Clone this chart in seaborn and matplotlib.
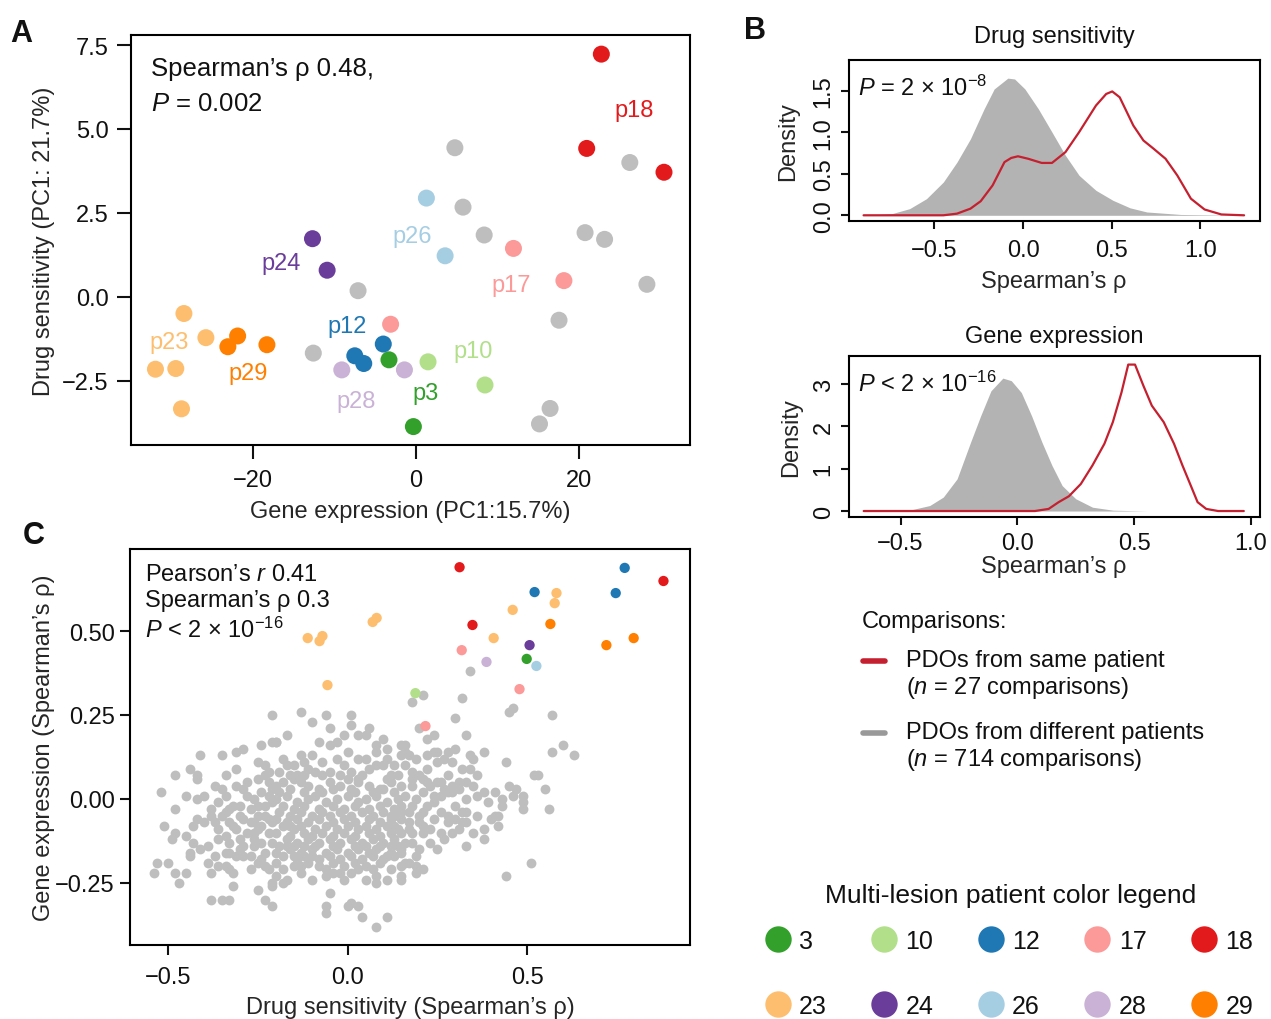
import numpy as np
import pandas as pd
import matplotlib
matplotlib.use("Agg")
import matplotlib.pyplot as plt
from matplotlib.lines import Line2D
from matplotlib.legend_handler import HandlerLine2D
import seaborn as sns

# ---- data ----
patients = ["3", "10", "12", "17", "18", "23", "24", "26", "28", "29"]

# panel A: PDO principal components (gene expr PC1, drug PC1)
pdo_patient = ["18", "18", "18", "26", "26", "17", "17", "17", "24", "24",
               "12", "12", "12", "3", "3", "28", "28", "10", "10",
               "23", "23", "23", "23", "23", "29", "29", "29"] + ["other"] * 12
pdo_gene_pc = [22.8, 21.0, 30.5, 1.3, 3.6, 12.0, 18.2, -3.1, -12.7, -10.9,
               -4.0, -7.5, -6.4, -3.3, -0.3, -9.1, -1.4, 1.5, 8.5,
               -28.5, -25.8, -32.0, -29.5, -28.8, -21.9, -23.1, -18.3,
               4.8, 26.3, 5.8, 8.4, 20.8, 23.2, 28.4, -7.1, 17.6, -12.6, 16.5, 15.2]
pdo_drug_pc = [7.23, 4.42, 3.71, 2.94, 1.22, 1.44, 0.48, -0.82, 1.73, 0.79,
               -1.41, -1.76, -1.99, -1.88, -3.87, -2.18, -2.18, -1.94, -2.63,
               -0.50, -1.22, -2.16, -2.14, -3.34, -1.17, -1.49, -1.43,
               4.44, 4.00, 2.67, 1.84, 1.91, 1.71, 0.37, 0.18, -0.70, -1.68, -3.33, -3.79]
label_text = ["p18", "p26", "p17", "p24", "p12", "p3", "p28", "p10", "p23", "p29"]
label_patient = ["18", "26", "17", "24", "12", "3", "28", "10", "23", "29"]
label_x = [26.8, -0.5, 11.7, -16.6, -8.4, 1.2, -7.3, 7.1, -30.3, -20.6]
label_y = [5.57, 1.81, 0.35, 1.00, -0.88, -2.86, -3.11, -1.61, -1.36, -2.26]

# panel B: density curves (x, density)
drug_diff_x = [-0.90, -0.74, -0.64, -0.545, -0.45, -0.373, -0.297, -0.22, -0.163, -0.086,
               -0.048, 0.01, 0.086, 0.163, 0.239, 0.316, 0.411, 0.507, 0.603, 0.698, 0.89, 1.247]
drug_diff_y = [0.0, 0.02, 0.08, 0.20, 0.40, 0.64, 0.92, 1.28, 1.52, 1.65,
               1.64, 1.52, 1.28, 1.00, 0.72, 0.48, 0.30, 0.18, 0.09, 0.04, 0.01, 0.0]
drug_same_x = [-0.90, -0.45, -0.373, -0.297, -0.239, -0.172, -0.105, -0.067, -0.029, 0.029,
               0.105, 0.163, 0.239, 0.316, 0.411, 0.469, 0.503, 0.545, 0.622, 0.679,
               0.737, 0.804, 0.87, 0.947, 1.024, 1.119, 1.247]
drug_same_y = [0.0, 0.0, 0.02, 0.08, 0.17, 0.36, 0.64, 0.69, 0.71, 0.68,
               0.63, 0.63, 0.76, 1.00, 1.32, 1.46, 1.49, 1.42, 1.08, 0.90,
               0.80, 0.68, 0.48, 0.20, 0.07, 0.01, 0.0]
gene_diff_x = [-0.658, -0.462, -0.375, -0.317, -0.258, -0.20, -0.157, -0.113, -0.062, -0.026,
               0.017, 0.061, 0.105, 0.148, 0.192, 0.25, 0.322, 0.41, 0.555, 0.97]
gene_diff_y = [0.0, 0.02, 0.13, 0.33, 0.76, 1.63, 2.25, 2.84, 3.14, 3.08,
               2.80, 2.25, 1.63, 1.08, 0.60, 0.29, 0.09, 0.02, 0.0, 0.0]
gene_same_x = [-0.658, 0.075, 0.134, 0.177, 0.221, 0.272, 0.322, 0.373, 0.409, 0.446,
               0.475, 0.504, 0.54, 0.576, 0.627, 0.671, 0.707, 0.743, 0.772, 0.809, 0.86, 0.97]
gene_same_y = [0.0, 0.0, 0.05, 0.21, 0.35, 0.64, 1.08, 1.59, 2.10, 2.80,
               3.46, 3.46, 2.96, 2.49, 2.10, 1.59, 1.08, 0.60, 0.21, 0.05, 0.0, 0.0]

# panel C: pairwise correlations, same-patient pairs (drug rho, gene rho)
pair_patient = ["23"] * 10 + ["29"] * 3 + ["18"] * 3 + ["12"] * 3 + ["24", "3", "26", "28"] + ["17"] * 3 + ["10"]
pair_drug = [-0.111, -0.078, -0.070, 0.070, 0.081, -0.056, 0.407, 0.460, 0.577, 0.582,
             0.565, 0.721, 0.797, 0.312, 0.348, 0.880, 0.772, 0.521, 0.747,
             0.507, 0.499, 0.526, 0.387, 0.318, 0.479, 0.217, 0.189]
pair_gene = [0.479, 0.470, 0.485, 0.527, 0.539, 0.339, 0.479, 0.563, 0.583, 0.613,
             0.521, 0.458, 0.479, 0.690, 0.518, 0.649, 0.688, 0.616, 0.613,
             0.458, 0.417, 0.396, 0.408, 0.443, 0.327, 0.217, 0.315]

# panel C: pairs from different patients (drug rho, gene rho)
other_pairs = [
    (-0.21, 0.25), (-0.41, 0.13), (-0.35, 0.13), (-0.31, 0.14), (-0.29, 0.15), (-0.24, 0.16), (-0.21, 0.17), (-0.20, 0.17),
    (-0.44, 0.09), (-0.48, 0.07), (-0.42, 0.06), (-0.42, 0.07), (-0.31, 0.09), (-0.34, 0.07), (-0.25, 0.11), (-0.23, 0.10), (-0.25, 0.06),
    (-0.52, 0.02), (-0.45, 0.01), (-0.42, 0.00), (-0.40, 0.01), (-0.37, 0.04), (-0.35, 0.03), (-0.34, 0.01), (-0.31, 0.04), (-0.29, 0.03),
    (-0.28, 0.05), (-0.22, 0.05), (-0.26, 0.00),
    (-0.48, -0.03), (-0.38, -0.03), (-0.38, -0.05), (-0.32, -0.02), (-0.30, -0.02), (-0.23, -0.02), (-0.21, -0.01),
    (-0.51, -0.08), (-0.48, -0.10), (-0.49, -0.12), (-0.45, -0.11), (-0.43, -0.08), (-0.42, -0.06), (-0.40, -0.07), (-0.43, -0.13),
    (-0.35, -0.05), (-0.33, -0.07), (-0.32, -0.08), (-0.29, -0.06), (-0.27, -0.07), (-0.30, -0.12), (-0.28, -0.10), (-0.26, -0.10),
    (-0.24, -0.08), (-0.22, -0.10),
    (-0.39, -0.14), (-0.41, -0.15), (-0.44, -0.16), (-0.44, -0.17), (-0.34, -0.16), (-0.33, -0.16), (-0.31, -0.17), (-0.29, -0.17),
    (-0.27, -0.17), (-0.26, -0.14), (-0.23, -0.16),
    (-0.53, -0.19), (-0.50, -0.19), (-0.54, -0.22), (-0.48, -0.22), (-0.45, -0.22), (-0.39, -0.19), (-0.47, -0.25), (-0.38, -0.22),
    (-0.36, -0.20), (-0.34, -0.20), (-0.33, -0.21), (-0.32, -0.22), (-0.25, -0.19), (-0.23, -0.20), (-0.22, -0.21),
    (-0.32, -0.26), (-0.25, -0.27), (-0.21, -0.25), (-0.38, -0.30), (-0.35, -0.30), (-0.33, -0.30), (-0.23, -0.30), (-0.21, -0.32),
    (-0.13, 0.26), (-0.10, 0.23), (-0.06, 0.25), (-0.05, 0.21), (0.01, 0.25), (0.01, 0.22), (-0.17, 0.19), (-0.20, 0.17),
    (0.03, 0.19), (0.06, 0.21), (0.05, 0.19), (-0.08, 0.17), (-0.05, 0.16), (-0.03, 0.17), (-0.01, 0.19), (0.08, 0.16),
    (0.10, 0.18), (0.11, 0.15), (0.15, 0.16),
    (-0.18, 0.12), (-0.17, 0.10), (-0.13, 0.13), (-0.10, 0.13), (-0.07, 0.11), (-0.03, 0.12), (0.00, 0.14), (0.03, 0.12),
    (0.08, 0.14), (0.15, 0.13), (0.16, 0.14),
    (-0.11, 0.09), (-0.09, 0.08), (-0.14, 0.07), (-0.05, 0.08), (0.03, 0.06), (0.04, 0.07), (0.06, 0.09), (0.08, 0.10),
    (0.10, 0.10), (0.13, 0.10), (-0.20, 0.04), (-0.18, 0.05), (-0.15, 0.06),
    (-0.13, 0.05), (-0.11, 0.04), (-0.08, 0.03), (-0.05, 0.05), (-0.02, 0.04), (0.01, 0.03), (0.03, 0.05), (0.06, 0.04),
    (0.09, 0.03), (0.12, 0.05), (0.15, 0.04),
    (-0.20, 0.00), (-0.17, 0.01), (-0.14, -0.01), (-0.11, 0.00), (-0.09, 0.01), (-0.06, -0.01), (-0.03, 0.00), (0.00, 0.01),
    (0.03, -0.01), (0.05, 0.00), (0.08, 0.01), (0.11, -0.01), (0.14, 0.00), (0.16, 0.01),
    (-0.19, -0.04), (-0.16, -0.05), (-0.13, -0.04), (-0.10, -0.05), (-0.07, -0.04), (-0.05, -0.05), (-0.02, -0.04), (0.01, -0.05),
    (0.04, -0.04), (0.07, -0.05), (0.10, -0.04), (0.12, -0.05), (0.15, -0.04),
    (-0.18, -0.08), (-0.15, -0.09), (-0.13, -0.08), (-0.09, -0.09), (-0.06, -0.08), (-0.03, -0.09), (0.00, -0.08), (0.03, -0.09),
    (0.05, -0.08), (0.08, -0.09), (0.11, -0.08), (0.14, -0.09),
    (-0.17, -0.12), (-0.14, -0.13), (-0.11, -0.12), (-0.08, -0.13), (-0.05, -0.12), (-0.02, -0.13), (0.01, -0.12), (0.04, -0.13),
    (0.07, -0.12), (0.10, -0.13), (0.13, -0.12), (0.16, -0.13),
    (-0.16, -0.15), (-0.13, -0.16), (-0.10, -0.15), (-0.06, -0.16), (-0.03, -0.15), (0.00, -0.16), (0.03, -0.15), (0.06, -0.16),
    (0.08, -0.15), (0.12, -0.16), (0.15, -0.15),
    (-0.20, -0.19), (-0.15, -0.20), (-0.11, -0.19), (-0.08, -0.20), (-0.04, -0.19), (-0.01, -0.20), (0.02, -0.19), (0.05, -0.20),
    (0.09, -0.19), (0.15, -0.20),
    (-0.20, -0.23), (-0.17, -0.24), (-0.13, -0.22), (-0.10, -0.24), (-0.06, -0.23), (-0.04, -0.22), (-0.01, -0.24), (0.01, -0.22),
    (0.05, -0.24), (0.08, -0.23), (0.11, -0.24), (0.15, -0.23),
    (-0.21, -0.26), (-0.18, -0.25), (-0.05, -0.28), (0.08, -0.25), (-0.06, -0.32), (-0.06, -0.34), (0.01, -0.31), (0.00, -0.32),
    (0.03, -0.32), (0.04, -0.35), (0.11, -0.35), (0.08, -0.38),
    (0.21, 0.31), (0.18, 0.29), (0.32, 0.30), (0.45, 0.26), (0.46, 0.27), (0.57, 0.25), (0.30, 0.24), (0.20, 0.21),
    (0.22, 0.18), (0.24, 0.19), (0.33, 0.19), (0.16, 0.16), (0.38, 0.14), (0.57, 0.14), (0.60, 0.16), (0.63, 0.13), (0.44, 0.11),
    (0.22, 0.13), (0.24, 0.14), (0.25, 0.14), (0.25, 0.11), (0.28, 0.14), (0.30, 0.15), (0.29, 0.11), (0.34, 0.13), (0.35, 0.12),
    (0.16, 0.10), (0.18, 0.08), (0.20, 0.07), (0.22, 0.09), (0.28, 0.07), (0.32, 0.09), (0.34, 0.09), (0.36, 0.07), (0.52, 0.07),
    (0.53, 0.07), (0.18, 0.06), (0.21, 0.06), (0.23, 0.04), (0.25, 0.05), (0.26, 0.05), (0.29, 0.04), (0.31, 0.05), (0.33, 0.05),
    (0.31, 0.03), (0.18, 0.04), (0.45, 0.04), (0.47, 0.03), (0.55, 0.03),
    (0.36, 0.01), (0.38, 0.02), (0.41, 0.02), (0.21, 0.02), (0.24, 0.01), (0.28, 0.02), (0.29, 0.02), (0.43, 0.00), (0.46, 0.01),
    (0.49, 0.01), (0.49, -0.01),
    (0.15, -0.02), (0.18, -0.02), (0.24, -0.01), (0.30, -0.02), (0.43, -0.02), (0.49, -0.03), (0.56, -0.03),
    (0.20, -0.05), (0.21, -0.04), (0.26, -0.04), (0.28, -0.05), (0.32, -0.04), (0.33, -0.04), (0.41, -0.05), (0.42, -0.05),
    (0.15, -0.06), (0.17, -0.07), (0.20, -0.07), (0.21, -0.08), (0.28, -0.07), (0.32, -0.07), (0.33, -0.07), (0.40, -0.06), (0.42, -0.08),
    (0.15, -0.10), (0.18, -0.10), (0.21, -0.10), (0.29, -0.10), (0.35, -0.10), (0.38, -0.09), (0.38, -0.12), (0.23, -0.13),
    (0.25, -0.15), (0.33, -0.14),
    (0.15, -0.16), (0.16, -0.19), (0.17, -0.19), (0.19, -0.20), (0.21, -0.21), (0.19, -0.22), (0.51, -0.19), (0.44, -0.23),
    (0.34, 0.38), (0.11, -0.17), (0.15, -0.24), (0.17, 0.13),
    (-0.19, 0.02), (-0.16, 0.03), (-0.12, 0.02), (-0.07, 0.02), (-0.04, 0.03), (0.02, 0.02), (0.07, 0.02), (0.10, 0.03), (0.13, 0.02),
    (-0.18, -0.02), (-0.15, -0.03), (-0.12, -0.02), (-0.08, -0.03), (-0.04, -0.02), (-0.01, -0.03), (0.02, -0.02), (0.06, -0.03),
    (0.09, -0.02), (0.13, -0.03),
    (-0.20, -0.06), (-0.17, -0.07), (-0.14, -0.06), (-0.11, -0.07), (-0.08, -0.06), (-0.04, -0.07), (-0.01, -0.06), (0.02, -0.07),
    (0.06, -0.06), (0.09, -0.07), (0.12, -0.06),
    (-0.20, -0.10), (-0.16, -0.11), (-0.12, -0.10), (-0.10, -0.11), (-0.07, -0.10), (-0.04, -0.11), (-0.01, -0.10), (0.02, -0.11),
    (0.06, -0.10), (0.09, -0.11), (0.12, -0.10),
    (-0.19, -0.14), (-0.15, -0.14), (-0.12, -0.14), (-0.09, -0.14), (-0.04, -0.14), (0.02, -0.14), (0.05, -0.14), (0.09, -0.14), (0.14, -0.14),
    (-0.18, -0.17), (-0.14, -0.18), (-0.12, -0.17), (-0.08, -0.18), (-0.05, -0.17), (-0.02, -0.18), (0.01, -0.17), (0.04, -0.18),
    (0.07, -0.17), (0.10, -0.18),
    (-0.19, 0.08), (-0.16, 0.07), (-0.02, 0.07), (0.01, 0.08), (0.12, 0.07),
    (-0.27, -0.03), (-0.25, -0.05), (-0.24, 0.02), (-0.26, -0.12), (-0.24, -0.13), (-0.23, -0.05), (-0.22, 0.08),
    (-0.15, 0.10), (-0.12, 0.11), (-0.01, 0.10), (0.05, 0.12), (0.11, 0.12), (0.19, 0.12), (0.27, 0.12),
    (-0.23, 0.07), (-0.21, 0.03), (-0.12, 0.07), (-0.07, 0.07), (0.00, 0.06), (0.11, 0.06), (0.14, 0.07), (0.22, 0.05),
    (0.27, 0.03), (0.35, 0.04),
    (-0.36, -0.01), (-0.33, -0.03), (-0.28, 0.01), (-0.25, -0.02), (-0.22, 0.01), (0.19, 0.00), (0.22, -0.02), (0.26, 0.01),
    (0.33, 0.00), (0.39, -0.01),
    (-0.37, -0.07), (-0.34, -0.04), (-0.30, -0.05), (-0.26, -0.07), (-0.22, -0.06), (0.13, -0.05), (0.17, -0.04), (0.24, -0.06),
    (0.30, -0.06), (0.36, -0.05),
    (-0.36, -0.09), (-0.34, -0.11), (-0.31, -0.09), (-0.25, -0.09), (-0.21, -0.07), (-0.16, -0.08), (0.13, -0.08), (0.17, -0.09),
    (0.23, -0.09), (0.26, -0.10), (0.31, -0.09),
    (-0.36, -0.12), (-0.33, -0.13), (-0.29, -0.14), (-0.21, -0.13), (-0.17, -0.14), (0.12, -0.14), (0.18, -0.13), (0.20, -0.15),
    (0.27, -0.12),
    (-0.37, -0.17), (-0.30, -0.15), (-0.24, -0.18), (-0.20, -0.16), (-0.15, -0.17), (0.13, -0.17), (0.19, -0.17), (-0.10, -0.17),
    (-0.27, -0.21), (-0.18, -0.21), (-0.13, -0.20), (-0.06, -0.21), (-0.02, -0.22), (0.03, -0.21), (0.07, -0.21), (0.12, -0.21),
]

# ---- style ----
sns.set_style("white")
plt.rcParams['font.family'] = ['Liberation Sans', 'DejaVu Sans']
plt.rcParams['mathtext.fontset'] = 'custom'
plt.rcParams['mathtext.rm'] = 'Liberation Sans'
plt.rcParams['mathtext.it'] = 'Liberation Sans:italic'
plt.rcParams['axes.edgecolor'] = 'black'
plt.rcParams['axes.linewidth'] = 1.5
plt.rcParams['text.color'] = '#111111'

FS = 17
paired = sns.color_palette("Paired")
pal = {"3": paired[3], "10": paired[2], "12": paired[1], "17": paired[4], "18": paired[5],
       "23": paired[6], "24": paired[9], "26": paired[0], "28": paired[8], "29": paired[7],
       "other": "#BEBEBE"}
gray_pts = "#BEBEBE"
gray_fill = "#B3B3B3"
red_line = "#C4202F"


def style_axis(ax, length=7, xpad=4, ypad=4):
    ax.tick_params(bottom=True, left=True, direction='out', length=length, width=1.5,
                   labelsize=FS, colors='#111111')
    ax.tick_params(axis='x', pad=xpad)
    ax.tick_params(axis='y', pad=ypad)
    for s in ax.spines.values():
        s.set_color('black')
        s.set_linewidth(1.5)


class FirstLineHandler(HandlerLine2D):
    # put the legend line next to the first line of a two-line label
    def create_artists(self, legend, orig_handle, xdescent, ydescent, width, height, fontsize, trans):
        artists = super().create_artists(legend, orig_handle, xdescent, ydescent,
                                         width, height, fontsize, trans)
        for a in artists:
            a.set_ydata(np.asarray(a.get_ydata()) + 0.6 * fontsize)
        return artists


fig = plt.figure(figsize=(12.71, 10.20), dpi=100)

# ---- panel A ----
axA = fig.add_axes([0.1031, 0.5627, 0.4398, 0.4020])
dfA = pd.DataFrame({"gene": pdo_gene_pc, "drug": pdo_drug_pc, "patient": pdo_patient})
dfA["order"] = (dfA["patient"] != "other").astype(int)
dfA = dfA.sort_values("order")
sns.scatterplot(data=dfA, x="gene", y="drug", hue="patient", palette=pal, s=150,
                linewidth=0, legend=False, ax=axA)
for t, p, x, y in zip(label_text, label_patient, label_x, label_y):
    axA.text(x, y, t, color=pal[p], fontsize=FS, ha='center', va='center')
axA.set_xlim(-35.0, 33.7)
axA.set_ylim(-4.42, 7.8)
axA.set_xticks([-20, 0, 20])
axA.set_yticks([-2.5, 0, 2.5, 5.0, 7.5])
axA.set_yticklabels(["\u22122.5", "0.0", "2.5", "5.0", "7.5"])
axA.set_xlabel("Gene expression (PC1:15.7%)", fontsize=FS, labelpad=7)
axA.set_ylabel("Drug sensitivity (PC1: 21.7%)", fontsize=FS, labelpad=5)
axA.text(0.036, 0.948, "Spearman\u2019s \u03c1 0.48,\n$\\it{P}$ = 0.002", transform=axA.transAxes,
         fontsize=18.5, va='top', ha='left', linespacing=1.55)
style_axis(axA, length=10, xpad=7, ypad=6)

# ---- panel B ----
def density_panel(rect, title, dx, dy, sx, sy, xlim, ylim, yticks, ylabels, ptext,
                  title_pad, xpad, xlabelpad, ylabelpad):
    ax = fig.add_axes(rect)
    ax.fill_between(dx, dy, color=gray_fill, linewidth=0)
    sns.lineplot(x=sx, y=sy, ax=ax, color=red_line, linewidth=1.6, sort=False)
    ax.set_xlim(*xlim)
    ax.set_ylim(*ylim)
    ax.set_xticks([-0.5, 0, 0.5, 1.0])
    ax.set_xticklabels(["\u22120.5", "0.0", "0.5", "1.0"])
    ax.set_yticks(yticks)
    ax.set_yticklabels(ylabels, rotation=90, va='center')
    ax.set_title(title, fontsize=FS, pad=title_pad)
    ax.set_xlabel("Spearman\u2019s \u03c1", fontsize=FS, labelpad=xlabelpad)
    ax.set_ylabel("Density", fontsize=FS, labelpad=ylabelpad)
    ax.text(0.023, 0.83, ptext, transform=ax.transAxes, fontsize=FS, va='center', ha='left')
    style_axis(ax, length=6, xpad=xpad, ypad=4)
    return ax

density_panel([0.6676, 0.7824, 0.3235, 0.1581], "Drug sensitivity",
              drug_diff_x, drug_diff_y, drug_same_x, drug_same_y,
              (-0.985, 1.335), (-0.068, 1.872), [0, 0.5, 1.0, 1.5], ["0.0", "0.5", "1.0", "1.5"],
              "$\\it{P}$ = 2 \u00d7 10$^{\\mathrm{-8}}$",
              title_pad=13, xpad=7, xlabelpad=6.5, ylabelpad=10)
density_panel([0.6676, 0.4922, 0.3235, 0.1581], "Gene expression",
              gene_diff_x, gene_diff_y, gene_same_x, gene_same_y,
              (-0.723, 1.038), (-0.14, 3.67), [0, 1, 2, 3], ["0", "1", "2", "3"],
              "$\\it{P}$ < 2 \u00d7 10$^{\\mathrm{-16}}$",
              title_pad=10, xpad=4.5, xlabelpad=1, ylabelpad=7.5)

# ---- panel C ----
axC = fig.add_axes([0.1023, 0.0725, 0.4406, 0.3882])
other_drug = [p[0] for p in other_pairs]
other_gene = [p[1] for p in other_pairs]
sns.scatterplot(x=other_drug, y=other_gene, color=gray_pts, s=50, linewidth=0, ax=axC)
dfC = pd.DataFrame({"drug": pair_drug, "gene": pair_gene, "patient": pair_patient})
sns.scatterplot(data=dfC, x="drug", y="gene", hue="patient", palette=pal, s=55,
                linewidth=0, legend=False, ax=axC)
axC.set_xlim(-0.606, 0.954)
axC.set_ylim(-0.435, 0.744)
axC.set_xticks([-0.5, 0, 0.5])
axC.set_xticklabels(["\u22120.5", "0.0", "0.5"])
axC.set_yticks([-0.25, 0, 0.25, 0.5])
axC.set_yticklabels(["\u22120.25", "0.00", "0.25", "0.50"])
axC.set_xlabel("Drug sensitivity (Spearman\u2019s \u03c1)", fontsize=FS, labelpad=6)
axC.set_ylabel("Gene expression (Spearman\u2019s \u03c1)", fontsize=FS, labelpad=0)
axC.text(0.027, 0.965, "Pearson\u2019s $\\it{r}$ 0.41\nSpearman\u2019s \u03c1 0.3\n"
         "$\\it{P}$ < 2 \u00d7 10$^{\\mathrm{-16}}$",
         transform=axC.transAxes, fontsize=FS, va='top', ha='left', linespacing=1.25)
style_axis(axC, length=7, xpad=8, ypad=4)

# ---- legends ----
fig.text(862 / 1271, 1 - 622 / 1020, "Comparisons:", fontsize=FS, ha='left', va='center')
comp_handles = [Line2D([], [], color=red_line, lw=4), Line2D([], [], color="#999999", lw=4)]
comp_labels = ["PDOs from same patient\n($\\it{n}$ = 27 comparisons)",
               "PDOs from different patients\n($\\it{n}$ = 714 comparisons)"]
leg1 = fig.legend(comp_handles, comp_labels, loc='upper left',
                  bbox_to_anchor=(0.6626, 0.3839), frameon=False, fontsize=FS,
                  handlelength=0.9, handletextpad=0.9, labelspacing=0.85,
                  handler_map={Line2D: FirstLineHandler()})

fig.text(0.795, 1 - 896 / 1020, "Multi-lesion patient color legend", fontsize=19,
         ha='center', va='center')
col_order = ["3", "23", "10", "24", "12", "26", "17", "28", "18", "29"]
col_handles = [Line2D([], [], marker='o', ls='none', markersize=19, markeredgewidth=0,
                      markerfacecolor=pal[p]) for p in col_order]
leg2 = fig.legend(col_handles, col_order, ncol=5,
                  loc='center', bbox_to_anchor=(0.794, 1 - 974.5 / 1020), frameon=False,
                  fontsize=18, handlelength=1.0, handletextpad=0.35,
                  columnspacing=1.8, labelspacing=1.65)

# panel letters
fig.text(0.008, 0.967, "A", fontsize=22, fontweight='bold', va='center')
fig.text(0.585, 0.970, "B", fontsize=22, fontweight='bold', va='center')
fig.text(0.018, 0.475, "C", fontsize=22, fontweight='bold', va='center')

fig.savefig("out.png", dpi=100)
